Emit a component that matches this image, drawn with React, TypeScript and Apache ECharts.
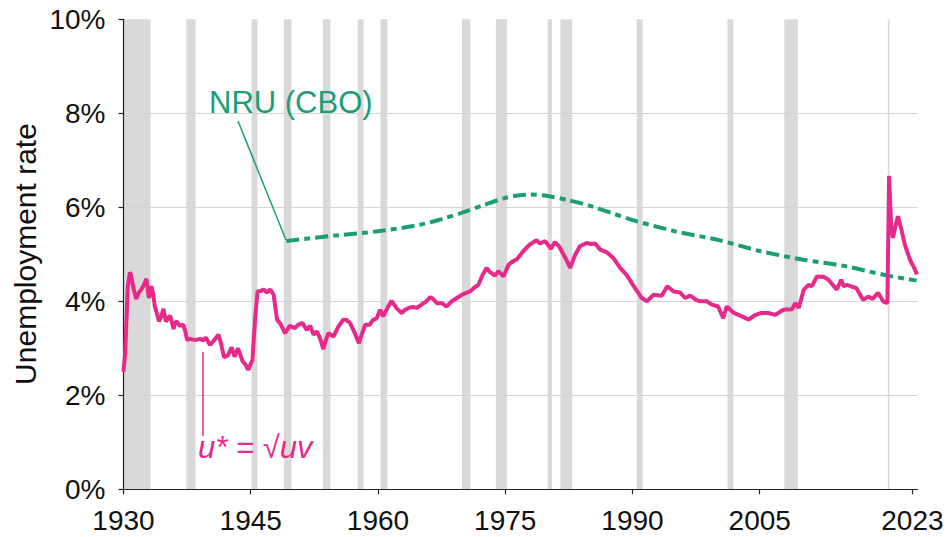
import React, { useEffect, useRef } from "react";
import * as echarts from "echarts";

const X_MIN = 1930;
const X_MAX = 2023.6;
const xTicks = [1930, 1945, 1960, 1975, 1990, 2005, 2023];

// NBER recessions [start, end]
const recessions: [number, number][] = [
  [1929.6, 1933.2], [1937.4, 1938.5], [1945.1, 1945.8], [1948.9, 1949.8],
  [1953.5, 1954.4], [1957.6, 1958.3], [1960.3, 1961.1], [1969.9, 1970.9],
  [1973.9, 1975.2], [1980.0, 1980.5], [1981.5, 1982.9], [1990.5, 1991.2],
  [2001.2, 2001.9], [2007.9, 2009.5], [2020.1, 2020.3],
];

// u* = sqrt(u v)
const uStar: [number, number][] = [
  [1930.0, 2.5], [1930.2, 2.9], [1930.5, 4.3], [1930.75, 4.62], [1930.9, 4.55],
  [1931.2, 4.25], [1931.5, 4.05], [1931.8, 4.18], [1932.1, 4.25], [1932.4, 4.35],
  [1932.7, 4.48], [1932.9, 4.2], [1933.0, 4.07], [1933.3, 4.32], [1933.5, 4.15],
  [1933.7, 3.89], [1934.0, 3.7], [1934.2, 3.57], [1934.5, 3.7], [1934.7, 3.84],
  [1935.0, 3.57], [1935.3, 3.65], [1935.5, 3.69], [1935.9, 3.41], [1936.1, 3.55],
  [1936.3, 3.57], [1936.6, 3.48], [1937.05, 3.5], [1937.3, 3.35], [1937.5, 3.18],
  [1937.9, 3.2], [1938.3, 3.18], [1938.6, 3.18], [1939.0, 3.2], [1939.4, 3.17],
  [1939.7, 3.23], [1940.2, 3.07], [1940.6, 3.15], [1941.2, 3.29], [1941.5, 3.1],
  [1941.85, 2.81], [1942.3, 2.85], [1942.75, 3.02], [1943.1, 2.82], [1943.5, 3.0],
  [1944.05, 2.72], [1944.4, 2.65], [1944.7, 2.54], [1945.2, 2.75], [1945.5, 3.6],
  [1945.8, 4.21], [1946.2, 4.22], [1946.5, 4.25], [1946.9, 4.19], [1947.3, 4.25],
  [1947.7, 4.14], [1948.1, 3.61], [1948.5, 3.52], [1949.05, 3.32], [1949.6, 3.48],
  [1950.2, 3.43], [1950.6, 3.5], [1951.1, 3.54], [1951.6, 3.39], [1952.0, 3.48],
  [1952.4, 3.29], [1952.8, 3.36], [1953.2, 3.2], [1953.55, 2.98], [1953.8, 3.15],
  [1954.15, 3.32], [1954.75, 3.25], [1955.3, 3.45], [1955.9, 3.61], [1956.3, 3.6],
  [1956.7, 3.54], [1957.2, 3.35], [1957.75, 3.11], [1958.1, 3.3], [1958.5, 3.5],
  [1959.0, 3.5], [1959.4, 3.6], [1959.85, 3.64], [1960.25, 3.82], [1960.6, 3.68],
  [1961.1, 3.85], [1961.6, 4.01], [1962.2, 3.85], [1962.8, 3.75], [1963.2, 3.82],
  [1963.6, 3.86], [1964.1, 3.88], [1964.6, 3.86], [1965.3, 3.95], [1965.7, 4.0],
  [1966.15, 4.09], [1966.5, 4.05], [1966.95, 3.96], [1967.5, 3.96], [1968.1, 3.89],
  [1968.7, 4.0], [1969.3, 4.07], [1970.1, 4.16], [1970.85, 4.21], [1971.4, 4.3],
  [1971.85, 4.35], [1972.3, 4.55], [1972.8, 4.71], [1973.2, 4.62], [1973.8, 4.55],
  [1974.2, 4.64], [1974.8, 4.53], [1975.4, 4.78], [1975.9, 4.85], [1976.35, 4.89],
  [1977.15, 5.07], [1977.9, 5.21], [1978.7, 5.3], [1979.1, 5.23], [1979.7, 5.28],
  [1980.4, 5.12], [1980.85, 5.26], [1981.3, 5.18], [1981.65, 5.07], [1982.3, 4.85],
  [1982.65, 4.71], [1983.25, 4.99], [1983.8, 5.17], [1984.6, 5.24], [1985.1, 5.22],
  [1985.6, 5.23], [1986.2, 5.1], [1987.0, 5.04], [1987.75, 4.92], [1988.55, 4.71],
  [1989.35, 4.55], [1990.3, 4.28], [1991.1, 4.07], [1991.7, 4.0], [1992.5, 4.14],
  [1993.45, 4.12], [1994.1, 4.32], [1994.85, 4.21], [1995.6, 4.19], [1996.2, 4.07],
  [1996.8, 4.12], [1997.6, 4.02], [1998.0, 4.0], [1998.75, 4.0], [1999.35, 3.93],
  [2000.1, 3.89], [2000.7, 3.64], [2001.1, 3.89], [2001.9, 3.76], [2002.9, 3.68],
  [2003.7, 3.61], [2004.4, 3.7], [2005.1, 3.75], [2006.0, 3.75], [2006.8, 3.71],
  [2007.8, 3.82], [2008.8, 3.83], [2009.2, 3.96], [2009.6, 3.86], [2010.2, 4.25],
  [2010.75, 4.35], [2011.15, 4.32], [2011.75, 4.53], [2012.55, 4.52], [2013.1, 4.46],
  [2013.6, 4.35], [2014.1, 4.25], [2014.6, 4.46], [2014.9, 4.32], [2015.3, 4.35],
  [2015.7, 4.32], [2016.4, 4.28], [2017.2, 4.03], [2017.8, 4.1], [2018.3, 4.05],
  [2018.95, 4.18], [2019.55, 4.0], [2020.05, 3.96], [2020.25, 6.67], [2020.5, 5.6],
  [2020.7, 5.35], [2021.0, 5.6], [2021.3, 5.81], [2021.7, 5.53], [2022.1, 5.21],
  [2022.4, 5.05], [2022.7, 4.89], [2023.1, 4.75], [2023.55, 4.57],
];

// Natural rate of unemployment (CBO)
const nru: [number, number][] = [
  [1949.2, 5.28], [1950, 5.3], [1955, 5.4], [1960, 5.49], [1965, 5.63],
  [1967.5, 5.75], [1970, 5.89], [1972.5, 6.05], [1975, 6.2], [1976.5, 6.25],
  [1978, 6.27], [1980, 6.24], [1982.5, 6.15], [1985, 6.03], [1987.5, 5.88],
  [1990, 5.73], [1995, 5.49], [2000, 5.31], [2005, 5.07], [2010, 4.89],
  [2015, 4.75], [2020, 4.55], [2023.5, 4.44],
];

const FONT = '"Liberation Sans", Arial, Helvetica, sans-serif';
const PINK = "#e7298a";
const GREEN = "#1b9e77";

export default function App() {
  const ref = useRef<HTMLDivElement>(null);
  useEffect(() => {
    if (!ref.current) return;
    const chart = echarts.init(ref.current, undefined, { renderer: "svg" });
    const bandData = recessions.map(([a, b]) => [Math.max(a, X_MIN), Math.min(b, X_MAX)]);
    const option: any = {
      animation: false,
      grid: { left: 123.5, top: 19.3, width: 794, height: 470 },
      xAxis: {
        type: "value",
        min: X_MIN,
        max: X_MAX,
        z: 1,
        axisLine: { show: true, lineStyle: { color: "#222", width: 1.2 } },
        axisTick: { show: true, length: 5, customValues: xTicks, lineStyle: { color: "#222", width: 1.2 } },
        axisLabel: {
          customValues: xTicks,
          formatter: (v: number) => String(v),
          margin: 17,
          fontSize: 28,
          color: "#111",
          fontFamily: FONT,
        },
        splitLine: { show: false },
      },
      yAxis: {
        type: "value",
        min: 0,
        max: 10,
        interval: 2,
        z: 1,
        axisLine: { show: true, lineStyle: { color: "#222", width: 1.2 } },
        axisTick: { show: true, length: 5, lineStyle: { color: "#222", width: 1.2 } },
        axisLabel: { formatter: "{value}%", margin: 18, fontSize: 28, color: "#111", fontFamily: FONT },
        splitLine: {
          show: true,
          showMinLine: false,
          showMaxLine: false,
          lineStyle: { color: "#d4d4d4", width: 1.2 },
        },
      },
      series: [
        {
          type: "custom",
          name: "recessions",
          z: 0,
          silent: true,
          data: bandData,
          encode: { x: [0, 1] },
          renderItem: (params: any, api: any) => {
            const s = api.coord([api.value(0), 10]);
            const e = api.coord([api.value(1), 0]);
            return {
              type: "rect",
              shape: { x: s[0], y: s[1], width: e[0] - s[0], height: e[1] - s[1] },
              style: { fill: "#d9d9d9" },
            };
          },
        },
        {
          type: "line",
          name: "NRU (CBO)",
          data: nru,
          symbol: "none",
          smooth: 0.3,
          z: 3,
          lineStyle: { color: GREEN, width: 4, type: [13, 5, 6, 5] },
        },
        {
          type: "line",
          name: "u*",
          data: uStar,
          symbol: "none",
          z: 4,
          lineStyle: { color: PINK, width: 4 },
        },
      ],
      graphic: [
        {
          type: "text",
          x: 25,
          y: 254,
          rotation: Math.PI / 2,
          z: 10,
          style: { text: "Unemployment rate", fill: "#111", fontSize: 30, fontFamily: FONT, align: "center", verticalAlign: "middle" },
        },
        {
          type: "text",
          x: 209,
          y: 102.5,
          z: 10,
          style: { text: "NRU (CBO)", fill: GREEN, fontSize: 31, fontFamily: FONT, align: "left", verticalAlign: "middle" },
        },
        {
          type: "line",
          z: 10,
          shape: { x1: 238, y1: 121, x2: 286, y2: 240 },
          style: { stroke: GREEN, lineWidth: 1.5 },
        },
        {
          type: "text",
          x: 198,
          y: 447,
          z: 10,
          style: { text: "u* = √uv", fill: PINK, fontSize: 31, fontStyle: "italic", fontFamily: FONT, align: "left", verticalAlign: "middle" },
        },
        {
          type: "line",
          z: 10,
          shape: { x1: 203, y1: 352, x2: 203, y2: 436 },
          style: { stroke: PINK, lineWidth: 1.5 },
        },
      ],
    };
    chart.setOption(option);
    return () => chart.dispose();
  }, []);
  return (
    <div
      ref={ref}
      style={{ position: "fixed", left: 0, top: 0, width: 951, height: 537, background: "#fff" }}
    />
  );
}
